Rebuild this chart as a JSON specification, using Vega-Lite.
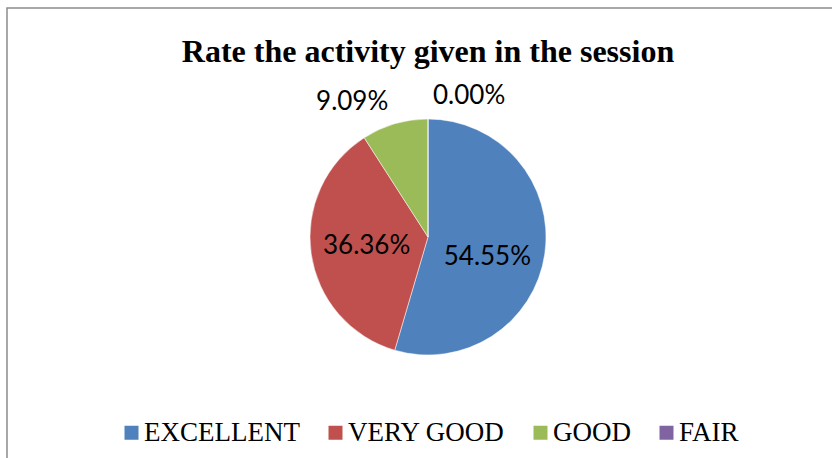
{
  "$schema": "https://vega.github.io/schema/vega-lite/v6.json",
  "width": 842,
  "height": 458,
  "padding": {"left": 7, "top": 8, "right": 0, "bottom": 0},
  "autosize": {"type": "none"},
  "background": "white",
  "view": {"stroke": "#8c8c8c", "strokeWidth": 1.5},
  "title": {
    "text": "Rate the activity given in the session",
    "font": "Liberation Serif",
    "fontSize": 32,
    "fontWeight": "bold",
    "color": "black",
    "anchor": "middle",
    "offset": -61
  },
  "data": {
    "values": [
      {"rating": "EXCELLENT", "pct": 54.55, "label": "54.55%", "ord": 1},
      {"rating": "VERY GOOD", "pct": 36.36, "label": "36.36%", "ord": 2},
      {"rating": "GOOD", "pct": 9.09, "label": "9.09%", "ord": 3},
      {"rating": "FAIR", "pct": 0.0, "label": "0.00%", "ord": 4}
    ]
  },
  "encoding": {
    "theta": {"field": "pct", "type": "quantitative", "stack": true},
    "order": {"field": "ord", "type": "quantitative"}
  },
  "layer": [
    {
      "mark": {"type": "arc", "outerRadius": 118, "stroke": "white", "strokeWidth": 0.5},
      "encoding": {
        "color": {
          "field": "rating",
          "type": "nominal",
          "sort": ["EXCELLENT", "VERY GOOD", "GOOD", "FAIR"],
          "scale": {"domain": ["EXCELLENT", "VERY GOOD", "GOOD", "FAIR"], "range": ["#4F81BD", "#C0504D", "#9BBB59", "#8064A2"]},
          "legend": {
            "title": null,
            "orient": "none",
            "direction": "horizontal",
            "legendX": 111,
            "legendY": 411,
            "symbolType": "square",
            "symbolSize": 196,
            "symbolStrokeWidth": 0,
            "labelFont": "Liberation Serif",
            "labelFontSize": 27,
            "labelColor": "black",
            "labelOffset": -1,
            "columnPadding": 22,
            "labelLimit": 300
          }
        }
      }
    },
    {
      "mark": {"type": "text", "radius": 60, "dy": 11, "font": "Lato", "fontSize": 26, "color": "black"},
      "encoding": {"text": {"condition": {"test": "datum.ord == 1", "field": "label"}, "value": ""}}
    },
    {
      "mark": {"type": "text", "radius": 62, "font": "Lato", "fontSize": 26, "color": "black"},
      "encoding": {"text": {"condition": {"test": "datum.ord == 2", "field": "label"}, "value": ""}}
    },
    {
      "mark": {"type": "text", "radius": 141, "align": "right", "font": "Lato", "fontSize": 26, "color": "black"},
      "encoding": {"text": {"condition": {"test": "datum.ord == 3", "field": "label"}, "value": ""}}
    },
    {
      "mark": {"type": "text", "radius": 141, "align": "left", "dx": 5, "font": "Lato", "fontSize": 26, "color": "black"},
      "encoding": {"text": {"condition": {"test": "datum.ord == 4", "field": "label"}, "value": ""}}
    }
  ]
}
